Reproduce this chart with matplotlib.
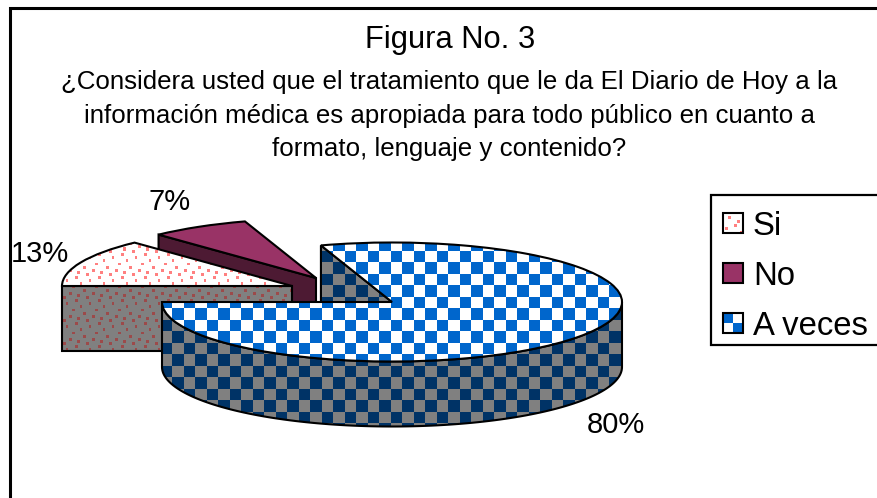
import numpy as np
import matplotlib
matplotlib.use('Agg')
import matplotlib.pyplot as plt
from matplotlib.patches import Polygon, Rectangle

plt.rcParams['font.family'] = ['Liberation Sans', 'DejaVu Sans']

# data
categories = ['Si', 'No', 'A veces']
values = [13, 7, 80]
title = 'Figura No. 3'
subtitle = ['¿Considera usted que el tratamiento que le da El Diario de Hoy a la',
	'información médica es apropiada para todo público en cuanto a',
	'formato, lenguaje y contenido?']

W, H = 877, 498
# pie geometry in pixels
cx, cy = 392, 302
rx, ry = 230, 59.5
depth = 65
squash = ry / rx
offsets = [(-100, -16), (-76, -24), (0, 0)]
label_pos = [(40, 254), (170, 202), (616, 425)]

yy, xx = np.mgrid[0:H, 0:W] + 0.5

def rgb(c):
	return np.array(matplotlib.colors.to_rgb(c))

def checker(c1, c2):
	r = np.floor((yy - 250.7) / 11.5).astype(int)
	c = np.floor((xx - 344.8) / 11.5).astype(int)
	img = np.zeros((H, W, 3))
	img[:] = rgb(c1)
	img[(r + c) % 2 == 0] = rgb(c2)
	return img

# dot positions inside the 23 px fill tile
tile_dots = [(10.7, 8.3), (1.3, 5.3), (18.7, 10.7), (16.7, 15.3), (7, 18.3), (13.3, 2), (4.7, 12.7), (21, 21.3)]

def dotted(bg, fg):
	img = np.zeros((H, W, 3))
	img[:] = rgb(bg)
	tx = (xx - 60) % 23
	ty = (yy - 285) % 23
	for dx, dy in tile_dots:
		d = np.abs((tx - dx + 11.5) % 23 - 11.5)
		e = np.abs((ty - dy + 11.5) % 23 - 11.5)
		img[(d <= 1.2) & (e <= 1.2)] = rgb(fg)
	return img

top_fill = [dotted('white', '#FF8080'), np.ones((H, W, 3)) * rgb('#993366'), checker('white', '#0066CC')]
side_fill = [dotted('#808080', '#9C4A4A'), np.ones((H, W, 3)) * rgb('#4D1A33'), checker('#808080', '#003366')]

fig = plt.figure(figsize=(W / 100, H / 100), dpi=100)
ax = fig.add_axes([0, 0, 1, 1])
wedges, _ = ax.pie(values, startangle=180, counterclock=False, radius=rx,
	wedgeprops=dict(fc='none', ec='black', lw=1.5))
ax.set_aspect('auto')
xlim = (-cx, W - cx)
ylim = ((cy - H) / squash, cy / squash)
ax.set_xlim(xlim)
ax.set_ylim(ylim)
ax.axis('off')

def paint(patch, fill, z):
	im = ax.imshow(fill, extent=(xlim[0], xlim[1], ylim[0], ylim[1]), origin='upper',
		aspect='auto', interpolation='nearest', zorder=z)
	im.set_clip_path(patch)
	patch.set_zorder(z + 0.5)

def side_poly(verts, fill, z):
	p = Polygon(verts, closed=True, fc='none', ec='black', lw=1.5)
	ax.add_patch(p)
	paint(p, fill, z)

def point(center, ang, r=rx):
	return (center[0] + r * np.cos(np.radians(ang)), center[1] + r * np.sin(np.radians(ang)))

def drop(pts):
	d = depth / squash
	return [(x, y - d) for x, y in pts]

def cut_face(center, ang):
	a = [center, point(center, ang)]
	return a + drop(a)[::-1]

def arc_face(center, a1, a2):
	t = np.linspace(a1, a2, 120)
	a = [point(center, v) for v in t]
	return a + drop(a)[::-1]

centers = []
for w, (dx, dy) in zip(wedges, offsets):
	c = (dx, -dy / squash)
	w.set_center(c)
	centers.append(c)

# No: back slice
side_poly(cut_face(centers[1], wedges[1].theta2), side_fill[1], 1)
paint(wedges[1], top_fill[1], 2)
# Si: flat face towards the viewer
side_poly(cut_face(centers[0], wedges[0].theta2), side_fill[0], 3)
paint(wedges[0], top_fill[0], 4)
# A veces: inner face, rim, top
side_poly(cut_face(centers[2], wedges[2].theta2), side_fill[2], 5)
side_poly(arc_face(centers[2], -180, 0), side_fill[2], 6)
paint(wedges[2], top_fill[2], 7)

# text, frame and legend in pixel coordinates
ov = fig.add_axes([0, 0, 1, 1], zorder=5)
ov.set_xlim(0, W)
ov.set_ylim(H, 0)
ov.axis('off')
ov.patch.set_alpha(0)

ov.plot([10, 10, W], [H, 8, 8], color='black', lw=2.2, solid_joinstyle='miter')
ov.text(450, 40, title, ha='center', va='center', fontsize=22.2)
for y, line in zip([82, 116, 149], subtitle):
	ov.text(449.5, y, line, ha='center', va='center', fontsize=18.6)

for v, (x, y) in zip(values, label_pos):
	ov.text(x, y, f'{v}%', ha='center', va='center', fontsize=21)

ov.add_patch(Rectangle((711, 195), 200, 150, fc='white', ec='black', lw=1.6, clip_on=True))
for i, name in enumerate(categories):
	y = 213 + 50 * i
	s = Rectangle((723, y), 20, 20, fc='none', ec='black', lw=1.5, zorder=4)
	ov.add_patch(s)
	if i == 0:
		sw = np.ones((20, 20, 3))
		for px, py in [(5, 3), (14, 7), (11, 11), (2, 14), (17, 18)]:
			sw[py:py + 3, px:px + 3] = rgb('#FF8080')
	elif i == 1:
		sw = np.ones((20, 20, 3)) * rgb('#993366')
	else:
		sw = np.ones((20, 20, 3))
		sw[:10, :10] = rgb('#0066CC')
		sw[10:, 10:] = rgb('#0066CC')
	ov.imshow(sw, extent=(723, 743, y + 20, y), interpolation='nearest', aspect='auto', zorder=3)
	ov.text(753, y + 13, name, ha='left', va='center', fontsize=23.7, zorder=4)
ov.set_xlim(0, W)
ov.set_ylim(H, 0)

fig.savefig('out.png', dpi=100)
